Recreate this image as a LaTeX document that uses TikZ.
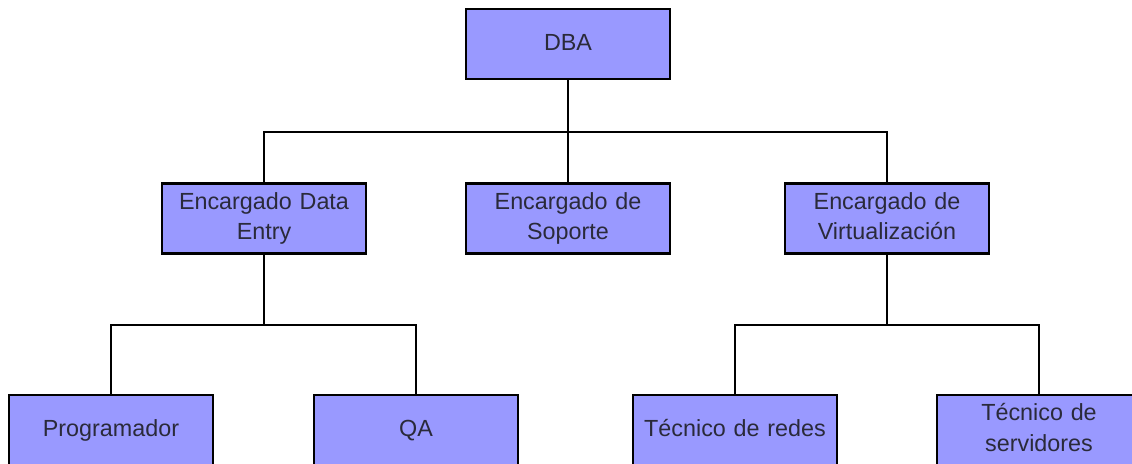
\documentclass[tikz,border=0pt]{standalone}
\usepackage{fontspec}
\setmainfont{Liberation Sans}
\usepackage{xcolor}
\usetikzlibrary{positioning}

\definecolor{boxfill}{HTML}{9999FF}
\definecolor{boxtext}{HTML}{2A2A3A}

\begin{document}
\begin{tikzpicture}[
  box/.style={rectangle, draw=black, line width=1.9pt, fill=boxfill,
              minimum width=5.1cm, minimum height=1.75cm,
              text width=4.8cm, align=center, text=boxtext,
              font=\fontsize{16.6}{21.8}\selectfont, inner sep=0pt,
              execute at begin node=\strut, execute at end node=\strut},
  conn/.style={line width=1.4pt, black}
]

% Page frame (the lower row is cut off at the edges)
\clip (0,0) rectangle (28.3,-11.575);

% Root
\node[box] (dba) at (14.2,-1.1) {DBA};

% Second level
\node[box] (entry)   at (6.6,-5.4625)    {Encargado Data\\Entry};
\node[box] (soporte) at (14.2,-5.4625)   {Encargado de\\Soporte};
\node[box] (virt)    at (22.175,-5.4625) {Encargado de\\Virtualización};

% Third level
\node[box] (prog) at (2.775,-10.75)  {Programador};
\node[box] (qa)   at (10.4,-10.75)   {QA};
\node[box] (redes) at (18.375,-10.75) {Técnico de redes};
\node[box] (serv)  at (25.975,-10.75) {Técnico de\\servidores};

% Junction points
\coordinate (busA) at (14.2,-3.3);
\coordinate (busB) at (6.6,-8.125);
\coordinate (busC) at (22.175,-8.125);

% Connectors
\draw[conn] (dba.south) -- (busA);
\draw[conn] (busA) -| (entry.north);
\draw[conn] (busA) -- (soporte.north);
\draw[conn] (busA) -| (virt.north);

\draw[conn] (entry.south) -- (busB);
\draw[conn] (busB) -| (prog.north);
\draw[conn] (busB) -| (qa.north);

\draw[conn] (virt.south) -- (busC);
\draw[conn] (busC) -| (redes.north);
\draw[conn] (busC) -| (serv.north);

\end{tikzpicture}
\end{document}
